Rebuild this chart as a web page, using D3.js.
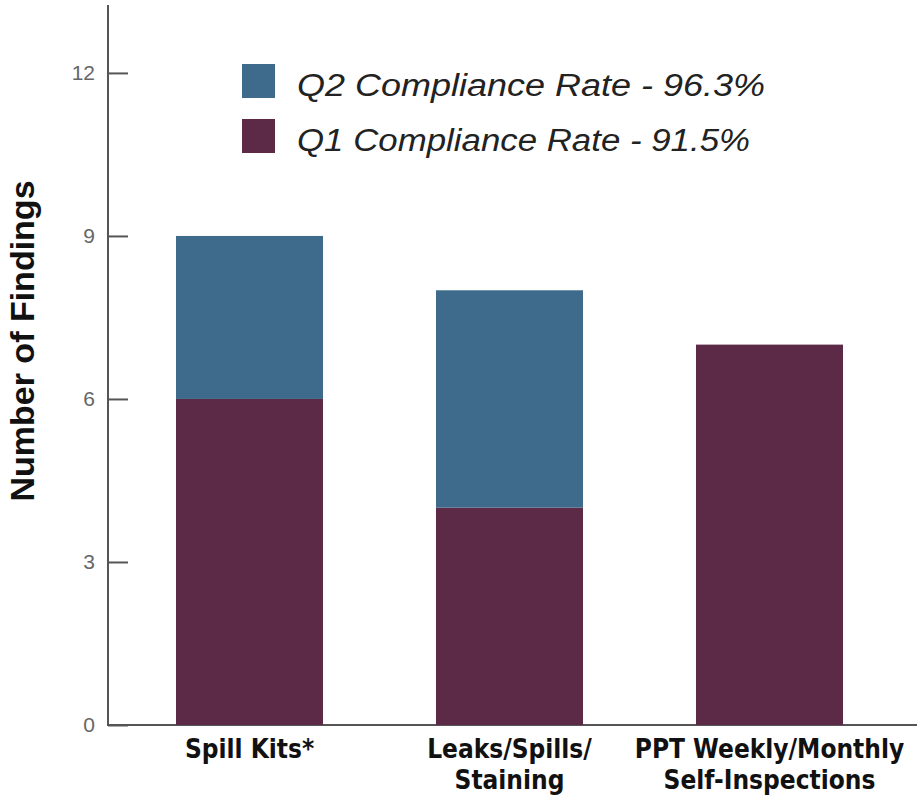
<!DOCTYPE html>
<html>
<head>
<meta charset="utf-8">
<script src="https://cdn.jsdelivr.net/npm/d3@7"></script>
<style>
  body { margin: 0; background: #fff; }
  svg { display: block; }
</style>
</head>
<body>
<svg id="chart" width="917" height="802"></svg>
<script>
// data
const categories = [["Spill Kits*"], ["Leaks/Spills/", "Staining"], ["PPT Weekly/Monthly", "Self-Inspections"]]
const q1Values = [6, 4, 7]
const q2Values = [3, 4, 0]
const yTicks = [0, 3, 6, 9, 12]
const legendLabels = ["Q2 Compliance Rate - 96.3%", "Q1 Compliance Rate - 91.5%"]

const blue = "#3e6a8b"
const maroon = "#5c2946"

const svg = d3.select("#chart")

const xScale = d3.scaleBand()
    .domain(d3.range(categories.length))
    .range([109.5, 909.5])
    .paddingInner(0.4346)
    .paddingOuter(0.2558)

const yScale = d3.scaleLinear()
    .domain([0, 13.25])
    .range([725, 5])

// y axis, ticks pointing inward
const yAxis = svg.append("g")
    .attr("transform", "translate(108,0)")
    .call(d3.axisRight(yScale).tickValues(yTicks).tickSize(20).tickPadding(-33))
yAxis.select(".domain").remove()
yAxis.selectAll(".tick line").attr("stroke", "#555").attr("stroke-width", 2)
yAxis.selectAll(".tick text")
    .attr("text-anchor", "end")
    .attr("fill", "#666")
    .style("font-family", "Liberation Sans, Arial, sans-serif")
    .style("font-size", "21px")
    .style("font-weight", 300)

svg.append("line")
    .attr("x1", 108).attr("x2", 108)
    .attr("y1", yScale.range()[1]).attr("y2", yScale(0))
    .attr("stroke", "#555").attr("stroke-width", 2)

svg.append("line")
    .attr("x1", 107).attr("x2", 917)
    .attr("y1", yScale(0)).attr("y2", yScale(0))
    .attr("stroke", "#555").attr("stroke-width", 2)

// stacked bars
const bars = svg.append("g")
bars.selectAll(".q1")
    .data(q1Values)
    .enter().append("rect")
    .attr("class", "q1")
    .attr("x", (d, i) => xScale(i))
    .attr("width", xScale.bandwidth())
    .attr("y", d => yScale(d))
    .attr("height", d => yScale(0) - yScale(d))
    .attr("fill", maroon)

bars.selectAll(".q2")
    .data(q2Values)
    .enter().append("rect")
    .attr("class", "q2")
    .attr("x", (d, i) => xScale(i))
    .attr("width", xScale.bandwidth())
    .attr("y", (d, i) => yScale(q1Values[i] + d))
    .attr("height", (d, i) => yScale(q1Values[i]) - yScale(q1Values[i] + d))
    .attr("fill", blue)

// category labels
const labels = svg.append("g")
categories.forEach((lines, i) => {
    const t = labels.append("text")
        .attr("x", xScale(i) + xScale.bandwidth() / 2)
        .attr("y", 758)
        .attr("text-anchor", "middle")
        .attr("fill", "#111")
        .style("font-family", "DejaVu Sans Condensed, sans-serif")
        .style("font-stretch", "condensed")
        .style("font-weight", "bold")
        .style("font-size", "26px")
    lines.forEach((s, j) => {
        t.append("tspan")
            .attr("x", xScale(i) + xScale.bandwidth() / 2)
            .attr("dy", j === 0 ? 0 : 31)
            .text(s)
    })
})

// y axis title
svg.append("text")
    .attr("transform", "translate(34,341) rotate(-90)")
    .attr("text-anchor", "middle")
    .attr("fill", "#111")
    .style("font-family", "Liberation Sans, Arial, sans-serif")
    .style("font-weight", "bold")
    .style("font-size", "34px")
    .text("Number of Findings")

// legend
const legendWidths = [468, 453]
const legend = svg.append("g")
legendLabels.forEach((s, i) => {
    legend.append("rect")
        .attr("x", 242).attr("y", 64 + i * 55)
        .attr("width", 33).attr("height", 34)
        .attr("fill", i === 0 ? blue : maroon)
    legend.append("text")
        .attr("x", 297).attr("y", 96 + i * 55)
        .attr("fill", "#222")
        .attr("textLength", legendWidths[i])
        .attr("lengthAdjust", "spacingAndGlyphs")
        .style("font-family", "Liberation Sans, Arial, sans-serif")
        .style("font-style", "italic")
        .style("font-size", "31px")
        .text(s)
})
</script>
</body>
</html>
